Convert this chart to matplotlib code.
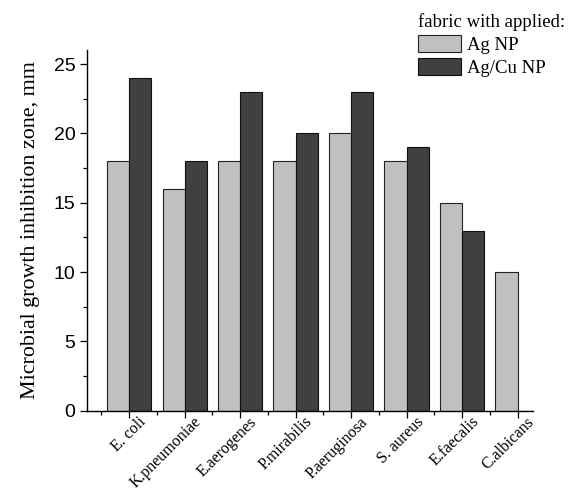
import matplotlib
matplotlib.use("Agg")
import matplotlib.pyplot as plt
import matplotlib.transforms as mtransforms
import numpy as np
from matplotlib.ticker import MultipleLocator, FixedLocator

categories = ["E. coli", "K.pneumoniae", "E.aerogenes", "P.mirabilis",
              "P.aeruginosa", "S. aureus", "E.faecalis", "C.albicans"]
ag_np = [18, 16, 18, 18, 20, 18, 15, 10]
agcu_np = [24, 18, 23, 20, 23, 19, 13, 0]

serif = "Liberation Serif"
sans = "Liberation Sans"

x = np.arange(len(categories))
w = 0.4

fig = plt.figure(figsize=(5.69, 4.92), dpi=100)
ax = fig.add_axes([0.153, 0.165, 0.784, 0.733])

ax.bar(x - w / 2, ag_np, w, color="#c0c0c0", edgecolor="#222222", linewidth=0.8, label="Ag NP")
ax.bar(x + w / 2, agcu_np, w, color="#404040", edgecolor="#111111", linewidth=0.8, label="Ag/Cu NP")

ax.set_xlim(-0.76, 7.28)
ax.set_ylim(0, 26)
ax.yaxis.set_major_locator(MultipleLocator(5))
ax.yaxis.set_minor_locator(MultipleLocator(2.5))
ax.set_xticks(x)
ax.set_xticklabels([])
ax.xaxis.set_minor_locator(FixedLocator(np.arange(-0.5, 7.6, 1)))

# category names sit a little right of their ticks, as in the original
shift = mtransforms.ScaledTranslation(0.09, -0.03, fig.dpi_scale_trans)
for xi, name in zip(x, categories):
    ax.text(xi, 0, name, transform=ax.get_xaxis_transform() + shift,
            rotation=45, ha="right", va="top", rotation_mode="anchor",
            fontsize=11.5, family=serif)

for lab in ax.get_yticklabels():
    lab.set_family(sans)
    lab.set_fontsize(14)
ax.tick_params(axis="both", which="major", direction="out", length=5, width=0.9)
ax.tick_params(axis="both", which="minor", direction="out", length=3, width=0.9)

ax.spines["top"].set_visible(False)
ax.spines["right"].set_visible(False)
ax.spines["left"].set_linewidth(1.0)
ax.spines["bottom"].set_linewidth(1.0)

ax.set_ylabel("Microbial growth inhibition zone, mm", family=serif, fontsize=15.8, labelpad=10)

leg = fig.legend(loc="upper right", bbox_to_anchor=(1.016, 1.0), frameon=False,
                 title="fabric with applied:", prop={"family": serif, "size": 13.5},
                 handlelength=2.3, handleheight=1.05, handletextpad=0.3, labelspacing=0.2,
                 borderaxespad=0.3)
leg.get_title().set_family(serif)
leg.get_title().set_fontsize(13.5)
leg._legend_box.align = "left"

fig.savefig("out.png", dpi=100)
